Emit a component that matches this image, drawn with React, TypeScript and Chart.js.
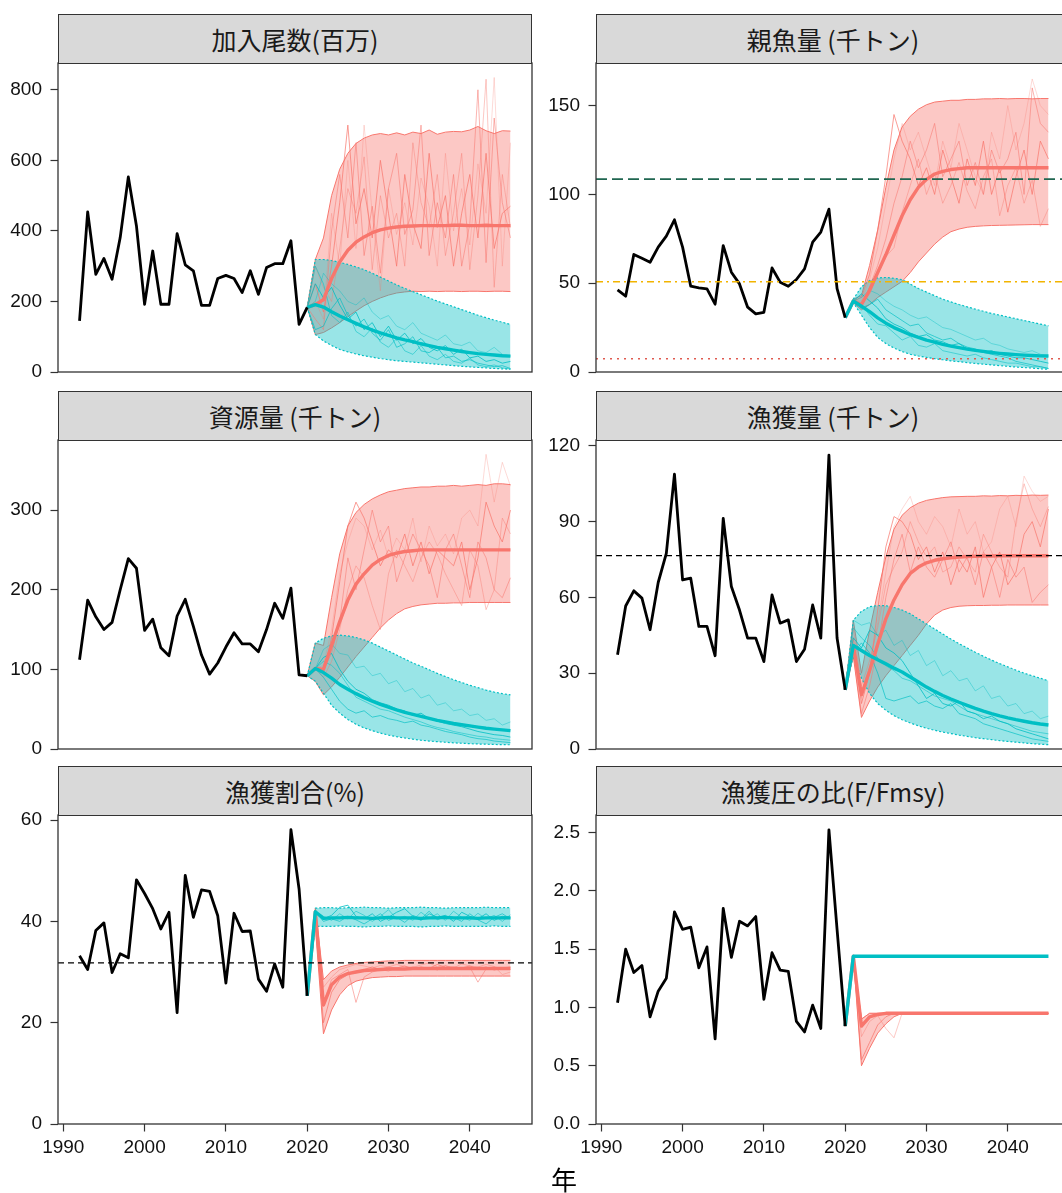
import React, { useEffect, useRef } from "react";
import { Chart, registerables } from "chart.js";
Chart.register(...registerables);

// ---------- categories ----------
const HIST_YEARS = [1992, 1993, 1994, 1995, 1996, 1997, 1998, 1999, 2000, 2001, 2002, 2003, 2004, 2005, 2006, 2007, 2008, 2009, 2010, 2011, 2012, 2013, 2014, 2015, 2016, 2017, 2018, 2019, 2020];
const PROJ_YEARS = [2020, 2021, 2022, 2023, 2024, 2025, 2026, 2027, 2028, 2029, 2030, 2031, 2032, 2033, 2034, 2035, 2036, 2037, 2038, 2039, 2040, 2041, 2042, 2043, 2044, 2045];
const X_TICKS = [1990, 2000, 2010, 2020, 2030, 2040];
const X_MIN = 1989.35;
const X_MAX = 2047.65;

// ---------- 加入尾数(百万) ----------
const recHist = [145, 454, 277, 322, 263, 381, 553, 414, 192, 343, 192, 192, 392, 304, 287, 189, 189, 265, 274, 265, 225, 287, 220, 296, 307, 307, 372, 135, 183];
const recCyanMed = [183, 191, 184, 171, 159, 148, 138, 128, 119, 111, 104, 97, 91, 86, 80, 75, 70, 66, 62, 58, 55, 52, 50, 48, 46, 45];
const recCyanLo = [183, 106, 88, 75, 64, 57, 51, 46, 42, 38, 35, 32, 30, 28, 26, 24, 22, 20, 18, 16, 14.5, 13, 11.5, 10, 9, 8];
const recCyanHi = [183, 319, 319, 316, 311, 305, 298, 290, 280, 269, 258, 247, 237, 228, 219, 210, 201, 193, 185, 177, 169, 161, 154, 147, 141, 135];
const recRedMed = [183, 191, 205, 265, 312, 345, 368, 383, 395, 403, 408, 411, 413, 414, 415, 415, 415, 415, 416, 416, 415, 415, 416, 415, 415, 415];
const recRedLo = [183, 106, 112, 125, 140, 157, 173, 188, 200, 210, 218, 224, 227, 229, 228, 229, 228, 229, 229, 228, 229, 229, 228, 229, 229, 228];
const recRedHi = [183, 319, 380, 500, 575, 620, 648, 663, 672, 676, 672, 678, 672, 680, 676, 686, 674, 680, 682, 681, 686, 696, 684, 676, 684, 683];
const recRedTr1 = [183, 250, 170, 300, 480, 700, 420, 520, 380, 600, 450, 300, 560, 420, 350, 620, 410, 500, 300, 450, 560, 380, 620, 350, 450, 470];
const recRedTr2 = [183, 150, 120, 400, 560, 380, 650, 330, 470, 280, 520, 620, 390, 460, 700, 330, 480, 380, 560, 300, 420, 800, 310, 720, 480, 380];
const recRedTr3 = [183, 300, 240, 200, 350, 520, 450, 610, 290, 500, 380, 450, 300, 650, 480, 410, 560, 330, 450, 620, 290, 500, 830, 240, 560, 410];
const recRedTr4 = [183, 200, 150, 450, 300, 600, 350, 700, 450, 230, 520, 390, 480, 360, 550, 470, 300, 620, 400, 520, 360, 590, 450, 835, 300, 650];
const recCyanTr1 = [183, 250, 210, 240, 190, 150, 170, 120, 140, 100, 130, 90, 110, 80, 95, 70, 60, 75, 50, 65, 40, 45, 30, 35, 25, 30];
const recCyanTr2 = [183, 120, 130, 180, 210, 160, 130, 150, 110, 90, 120, 70, 80, 100, 60, 55, 70, 40, 45, 30, 35, 25, 20, 15, 18, 10];
const recCyanTr3 = [183, 300, 250, 160, 140, 170, 115, 100, 125, 85, 70, 95, 60, 50, 75, 45, 35, 50, 30, 25, 40, 20, 15, 20, 12, 8];
const recCyanTr4 = [183, 200, 280, 250, 230, 200, 190, 210, 170, 150, 160, 130, 120, 140, 110, 100, 90, 105, 80, 75, 85, 60, 55, 70, 50, 45];
const recTicks = [0, 200, 400, 600, 800];

// ---------- 親魚量 (千トン) ----------
const ssbHist = [46.2, 42.7, 66.2, 64, 61.8, 70.3, 76.5, 85.7, 70.3, 48.3, 47.4, 46.8, 38.2, 71.2, 56.2, 49.6, 36.5, 32.7, 33.6, 58.6, 50.6, 48.3, 52.1, 58.1, 73.1, 78.8, 91.7, 47.0, 30.6];
const ssbCyanMed = [30.6, 40, 37, 34, 30.5, 27.5, 25, 23, 21, 19.5, 18, 16.8, 15.6, 14.6, 13.7, 12.9, 12.2, 11.6, 11, 10.5, 10.1, 9.8, 9.5, 9.3, 9.1, 9];
const ssbCyanLo = [30.6, 39, 32, 25, 19.5, 16, 13.5, 11.5, 10, 9, 8.2, 7.5, 6.9, 6.3, 5.8, 5.3, 4.8, 4.4, 4, 3.6, 3.2, 2.8, 2.5, 2.2, 1.8, 1.5];
const ssbCyanHi = [30.6, 41, 48, 51.5, 53, 53.2, 52.8, 52, 49.5, 47, 45, 43, 41, 39.5, 38, 36.7, 35.4, 34.2, 33, 32, 31, 30, 29, 28, 27, 26];
const ssbRedMed = [30.6, 40, 38, 46, 56, 66, 77, 88, 97, 104, 108.5, 111.5, 113, 114, 114.5, 115, 115, 115, 115, 115, 115, 115, 115, 115, 115, 115];
const ssbRedLo = [30.6, 39, 35, 38, 42, 45, 48, 51, 56, 62, 67, 72, 76, 79, 80.5, 81.5, 82, 82.3, 82.5, 82.6, 82.7, 82.8, 82.9, 83, 83, 83];
const ssbRedHi = [30.6, 41, 43, 60, 80, 104, 125, 138, 144, 148, 150.5, 152, 152.5, 153, 153, 153.5, 153.5, 153.8, 153.8, 154, 153.8, 154, 154, 153.8, 154, 154];
const ssbRedTr1 = [30.6, 40, 42, 55, 80, 110, 145, 130, 120, 105, 115, 100, 125, 110, 95, 120, 105, 130, 100, 115, 90, 110, 125, 100, 130, 120];
const ssbRedTr2 = [30.6, 40, 37, 48, 60, 75, 95, 110, 130, 115, 125, 140, 110, 120, 130, 105, 118, 100, 125, 112, 120, 135, 100, 160, 140, 135];
const ssbRedTr3 = [30.6, 40, 38, 44, 55, 65, 70, 90, 105, 120, 100, 112, 95, 105, 118, 102, 92, 110, 120, 88, 105, 115, 95, 108, 82, 92];
const ssbRedTr4 = [30.6, 40, 40, 52, 70, 95, 120, 140, 125, 135, 120, 105, 130, 115, 140, 125, 110, 100, 135, 120, 150, 125, 140, 165, 150, 145];
const ssbCyanTr1 = [30.6, 40, 44, 40, 36, 30, 27, 25, 22, 20, 21, 18, 17, 15, 16, 13, 12, 11, 12, 10, 9, 8, 8, 7, 6, 5];
const ssbCyanTr2 = [30.6, 40, 36, 38, 41, 35, 32, 29, 26, 27, 22, 20, 18, 19, 16, 14, 13, 11, 10, 9, 8, 6, 5, 4, 3, 2];
const ssbCyanTr3 = [30.6, 40, 38, 32, 27, 26, 22, 18, 20, 15, 14, 16, 12, 11, 10, 9, 10, 8, 7, 6, 5, 5, 4, 3, 3, 2];
const ssbCyanTr4 = [30.6, 40, 42, 46, 44, 40, 37, 35, 32, 30, 31, 28, 25, 24, 22, 20, 18, 19, 16, 15, 13, 12, 11, 12, 10, 9];
const ssbTicks = [0, 50, 100, 150];
const ssbTarget = 108.6;
const ssbLimit = 50.8;
const ssbBan = 7.5;

// ---------- 資源量 (千トン) ----------
const bioHist = [112, 187, 166, 150, 159, 200, 239, 227, 149, 163, 127, 117, 167, 188, 154, 118, 94, 108, 128, 146, 132, 132, 122, 150, 183, 164, 202, 93, 92];
const bioCyanMed = [92, 101, 96, 89, 81, 75, 69.5, 64.5, 60, 56, 52.5, 49, 46, 43.5, 41, 38.5, 36, 34, 32, 30.5, 29, 27.5, 26, 25, 24, 23];
const bioCyanLo = [92, 85, 70, 55, 45, 37, 31, 26.5, 23, 20, 17.5, 15.5, 13.8, 12.3, 11, 10, 9.2, 8.5, 7.8, 7.2, 6.7, 6.3, 6, 5.7, 5.5, 5.3];
const bioCyanHi = [92, 133, 139, 142, 143, 142, 140, 137, 133, 128, 123, 118, 113, 108, 104, 99.5, 95, 91, 87, 83.5, 80, 77, 74, 71.5, 69.5, 68];
const bioRedMed = [92, 101, 100, 130, 160, 187, 207, 220, 231, 238, 243, 246, 248, 249, 250, 250, 250, 250, 250, 250, 250, 250, 250, 250, 250, 250];
const bioRedLo = [92, 85, 68, 78, 90, 103, 116, 128, 140, 152, 162, 170, 176, 179, 181, 182, 183, 183, 183.5, 183.5, 184, 184, 184, 184, 184, 184];
const bioRedHi = [92, 133, 130, 190, 245, 280, 297, 307, 314, 319, 323, 325, 327, 328, 329, 329, 330, 330, 331, 330, 331, 332, 331, 333, 333, 332];
const bioRedTr1 = [92, 101, 95, 140, 210, 280, 310, 290, 260, 230, 250, 240, 270, 230, 260, 220, 250, 240, 230, 260, 200, 240, 310, 280, 260, 300];
const bioRedTr2 = [92, 101, 100, 120, 160, 240, 200, 250, 300, 260, 280, 210, 240, 270, 250, 230, 190, 250, 270, 230, 190, 260, 240, 200, 190, 215];
const bioRedTr3 = [92, 101, 90, 110, 150, 200, 230, 215, 180, 150, 220, 250, 230, 210, 240, 260, 245, 220, 200, 180, 250, 230, 175, 200, 290, 270];
const bioRedTr4 = [92, 101, 105, 150, 220, 260, 290, 280, 250, 275, 240, 265, 250, 290, 235, 280, 255, 270, 245, 290, 300, 280, 370, 310, 360, 330];
const bioCyanTr1 = [92, 101, 115, 120, 100, 85, 75, 70, 62, 58, 55, 50, 48, 42, 45, 38, 35, 32, 30, 28, 25, 22, 20, 18, 17, 15];
const bioCyanTr2 = [92, 101, 90, 75, 60, 50, 45, 48, 40, 42, 38, 36, 33, 35, 30, 28, 25, 22, 20, 18, 15, 13, 12, 10, 9, 8];
const bioCyanTr3 = [92, 101, 110, 105, 95, 80, 65, 60, 55, 50, 48, 44, 40, 37, 34, 30, 27, 25, 22, 20, 18, 16, 15, 13, 12, 11];
const bioCyanTr4 = [92, 101, 125, 132, 120, 118, 102, 104, 92, 95, 82, 86, 72, 76, 64, 68, 55, 58, 48, 50, 42, 44, 36, 38, 30, 34];
const bioTicks = [0, 100, 200, 300];

// ---------- 漁獲量 (千トン) ----------
const catHist = [37.3, 56.6, 62.6, 59.7, 47.2, 65.9, 77.4, 108.8, 66.9, 67.6, 48.5, 48.5, 36.9, 91.3, 64.3, 55, 43.9, 43.9, 34.6, 61, 49.8, 51.1, 34.6, 39.5, 57, 43.9, 116.3, 43.9, 23.4];
const catCyanMed = [23.4, 41, 39, 37, 35.3, 33.7, 32, 30.5, 28.5, 26.5, 24.5, 22.8, 21.2, 19.8, 18.5, 17.3, 16.1, 15, 14, 13.1, 12.3, 11.6, 11, 10.4, 9.9, 9.5];
const catCyanLo = [23.4, 36.6, 28, 22, 18, 15.3, 13.2, 11.6, 10.3, 9.2, 8.2, 7.4, 6.7, 6.1, 5.5, 5, 4.5, 4.1, 3.7, 3.3, 3, 2.7, 2.4, 2.1, 1.9, 1.7];
const catCyanHi = [23.4, 51, 54.5, 56.3, 56.8, 56.7, 56, 55, 53.5, 51.5, 49.5, 47.5, 45.5, 43.5, 41.7, 40, 38.3, 36.7, 35.2, 33.8, 32.5, 31.2, 30, 29, 28, 27];
const catRedMed = [23.4, 41, 21.5, 31, 41.5, 51.5, 59, 65, 69.5, 72, 73.7, 74.7, 75.3, 75.7, 76, 76.2, 76.3, 76.4, 76.4, 76.5, 76.5, 76.5, 76.5, 76.5, 76.5, 76.5];
const catRedLo = [23.4, 36.6, 12.5, 19, 24.5, 29, 33, 37, 41, 45, 49.5, 53, 55, 56, 56.5, 56.7, 56.8, 56.8, 56.9, 56.9, 57, 57, 57, 57, 57, 57];
const catRedHi = [23.4, 51, 30, 47, 62, 76, 87, 92.5, 95.5, 97.3, 98.4, 99, 99.5, 99.8, 99.9, 100, 100, 100.2, 100.1, 100.3, 100.2, 100.4, 100.3, 100.5, 100.4, 100.5];
const catRedTr1 = [23.4, 44, 18, 30, 55, 80, 92, 90, 85, 75, 80, 70, 78, 65, 75, 70, 80, 60, 72, 78, 65, 70, 85, 90, 80, 95];
const catRedTr2 = [23.4, 38, 14, 25, 40, 60, 75, 85, 70, 80, 72, 68, 75, 82, 70, 76, 65, 78, 72, 60, 75, 68, 72, 58, 62, 65];
const catRedTr3 = [23.4, 48, 25, 35, 48, 65, 72, 78, 90, 82, 76, 80, 70, 72, 80, 75, 70, 85, 78, 72, 68, 90, 105, 95, 88, 96];
const catRedTr4 = [23.4, 41, 20, 32, 50, 70, 88, 95, 100, 90, 85, 92, 88, 80, 95, 85, 90, 78, 82, 95, 100, 88, 108, 102, 98, 100];
const catCyanTr1 = [23.4, 44, 40, 47, 45, 40, 38, 35, 30, 25, 20, 22, 18, 17, 19, 15, 14, 12, 13, 11, 10, 8, 7, 6, 5, 4];
const catCyanTr2 = [23.4, 38, 42, 38, 30, 20, 19, 20, 21, 18, 19, 17, 16, 18, 14, 13, 12, 10, 9, 8, 7, 6, 5, 4, 3.5, 3];
const catCyanTr3 = [23.4, 48, 44, 41, 36, 33, 31, 28, 27, 25, 23, 21, 20, 19, 17, 15, 14, 13, 12, 11, 10, 9, 8, 7, 6.5, 6];
const catCyanTr4 = [23.4, 51, 49, 50, 45, 47, 41, 43, 37, 39, 33, 35, 29, 31, 27, 28, 23, 25, 20, 21, 17, 18, 14, 15, 12, 13];
const catTicks = [0, 30, 60, 90, 120];
const catMsy = 76.5;

// ---------- 漁獲割合(%) ----------
const rateHist = [33.2, 30.5, 38.2, 39.7, 29.9, 33.6, 32.8, 48.2, 45.5, 42.5, 38.5, 41.8, 22, 49.1, 40.8, 46.2, 45.9, 41.1, 27.8, 41.6, 38, 38.1, 28.6, 26.2, 31.6, 27, 58.1, 46.4, 25.3];
const rateCyanMed = [25.3, 41.9, 40.6, 40.7, 40.7, 40.8, 40.7, 40.7, 40.6, 40.7, 40.8, 40.7, 40.7, 40.7, 40.6, 40.7, 40.7, 40.8, 40.7, 40.7, 40.7, 40.6, 40.7, 40.7, 40.7, 40.7];
const rateCyanLo = [25.3, 39.0, 39.0, 39.0, 39.1, 39.0, 39.0, 38.9, 39.0, 39.0, 39.1, 39.0, 39.0, 39.0, 38.9, 39.0, 39.0, 39.1, 39.0, 39.0, 39.0, 39.0, 39.0, 39.1, 39.0, 39.0];
const rateCyanHi = [25.3, 42.6, 42.7, 42.7, 42.6, 42.7, 42.7, 42.8, 42.7, 42.7, 42.6, 42.7, 42.7, 42.7, 42.8, 42.7, 42.7, 42.6, 42.7, 42.7, 42.7, 42.7, 42.8, 42.7, 42.7, 42.7];
const rateRedMed = [25.3, 41.9, 23.5, 27.5, 29, 29.7, 30, 30.3, 30.4, 30.5, 30.6, 30.6, 30.6, 30.7, 30.7, 30.7, 30.7, 30.7, 30.7, 30.7, 30.7, 30.7, 30.7, 30.7, 30.7, 30.7];
const rateRedLo = [25.3, 39.0, 17.8, 22.5, 25.5, 27.3, 28.2, 28.6, 28.9, 29, 29.1, 29.1, 29.2, 29.2, 29.2, 29.2, 29.2, 29.2, 29.2, 29.2, 29.2, 29.2, 29.2, 29.2, 29.2, 29.2];
const rateRedHi = [25.3, 42.6, 28.5, 30.2, 31, 31.4, 31.7, 31.9, 32, 32.1, 32.2, 32.2, 32.3, 32.3, 32.3, 32.3, 32.3, 32.3, 32.3, 32.3, 32.3, 32.3, 32.3, 32.3, 32.3, 32.3];
const rateRedTr1 = [25.3, 41.9, 20, 26, 28.5, 29.5, 30, 30.5, 31, 30.5, 31, 30.8, 31.2, 30.6, 31, 30.7, 31.5, 30.9, 31, 30.8, 31.2, 30.6, 31, 30.4, 30.8, 31];
const rateRedTr2 = [25.3, 41.9, 24, 28.5, 29.5, 30.5, 24, 29, 30, 30.5, 30.2, 30.8, 30.5, 31, 30.6, 30.9, 30.4, 31.2, 30.7, 30.5, 31, 28, 30.6, 31, 30.7, 30.5];
const rateRedTr3 = [25.3, 41.9, 27, 29, 30.5, 31, 31.5, 31.2, 30.8, 31.3, 31, 31.5, 31.1, 30.9, 31.4, 31.8, 31, 31.3, 30.8, 31.6, 31.2, 31, 31.5, 31.1, 29.5, 30];
const rateCyanTr1 = [25.3, 41.9, 40.5, 41.2, 42.8, 43.2, 41, 40.5, 41.5, 40, 40.8, 41.8, 42.5, 41, 40.2, 41.5, 40.8, 41.2, 40, 41.8, 41, 40.5, 41.5, 40.2, 41, 40.8];
const rateCyanTr2 = [25.3, 41.9, 40, 40.5, 40, 41, 40.3, 39.5, 40.5, 41.5, 40.2, 40.8, 39.8, 41.2, 40.5, 42, 40.3, 41, 40.8, 40, 41.5, 40.3, 39.5, 40.8, 41.5, 40.5];
const rateCyanTr3 = [25.3, 41.9, 41, 40.2, 41.5, 40.5, 42, 41.2, 40, 41, 42.3, 40.5, 41, 40.2, 41.8, 40.6, 41.5, 40.2, 42, 40.8, 40.2, 41.6, 40.5, 41.2, 40, 41.3];
const rateTicks = [0, 20, 40, 60];
const rateRef = 31.8;

// ---------- 漁獲圧の比(F/Fmsy) ----------
const fHist = [1.04, 1.5, 1.3, 1.36, 0.92, 1.14, 1.25, 1.82, 1.67, 1.69, 1.34, 1.52, 0.73, 1.85, 1.43, 1.74, 1.7, 1.78, 1.07, 1.47, 1.32, 1.31, 0.88, 0.79, 1.02, 0.82, 2.525, 1.67, 0.84];
const fCyanMed = [0.84, 1.44, 1.44, 1.44, 1.44, 1.44, 1.44, 1.44, 1.44, 1.44, 1.44, 1.44, 1.44, 1.44, 1.44, 1.44, 1.44, 1.44, 1.44, 1.44, 1.44, 1.44, 1.44, 1.44, 1.44, 1.44];
const fRedMed = [0.84, 1.44, 0.84, 0.92, 0.94, 0.95, 0.95, 0.95, 0.95, 0.95, 0.95, 0.95, 0.95, 0.95, 0.95, 0.95, 0.95, 0.95, 0.95, 0.95, 0.95, 0.95, 0.95, 0.95, 0.95, 0.95];
const fRedLo = [0.84, 1.44, 0.5, 0.65, 0.78, 0.86, 0.92, 0.95, 0.95, 0.95, 0.95, 0.95, 0.95, 0.95, 0.95, 0.95, 0.95, 0.95, 0.95, 0.95, 0.95, 0.95, 0.95, 0.95, 0.95, 0.95];
const fRedHi = [0.84, 1.44, 0.9, 0.95, 0.95, 0.95, 0.95, 0.95, 0.95, 0.95, 0.95, 0.95, 0.95, 0.95, 0.95, 0.95, 0.95, 0.95, 0.95, 0.95, 0.95, 0.95, 0.95, 0.95, 0.95, 0.95];
const fRedTr1 = [0.84, 1.44, 0.55, 0.7, 0.85, 0.92, 0.95, 0.95, 0.95, 0.95, 0.95, 0.95, 0.95, 0.95, 0.95, 0.95, 0.95, 0.95, 0.95, 0.95, 0.95, 0.95, 0.95, 0.95, 0.95, 0.95];
const fRedTr2 = [0.84, 1.44, 0.9, 0.95, 0.95, 0.95, 0.95, 0.95, 0.95, 0.95, 0.95, 0.95, 0.95, 0.95, 0.95, 0.95, 0.95, 0.95, 0.95, 0.95, 0.95, 0.95, 0.95, 0.95, 0.95, 0.95];
const fRedTr3 = [0.84, 1.44, 0.75, 0.88, 0.93, 0.82, 0.74, 0.95, 0.95, 0.95, 0.95, 0.95, 0.95, 0.95, 0.95, 0.95, 0.95, 0.95, 0.95, 0.95, 0.95, 0.95, 0.95, 0.95, 0.95, 0.95];
const fTicks = [0, 0.5, 1, 1.5, 2, 2.5];

// ---------- styles ----------
const RED = "#F8766D";
const CYAN = "#00BFC4";
const RED_FILL = "rgba(248,118,109,0.4)";
const CYAN_FILL = "rgba(0,191,196,0.4)";
const RED_TRACE_ALPHA = [0.8, 0.6, 0.45, 0.3];
const CYAN_TRACE_ALPHA = [0.9, 0.75, 0.6, 0.45];
const TICK_FONT = { family: "'Liberation Sans', Arial, sans-serif", size: 19 };
const CJK = "'Noto Sans CJK JP', 'Noto Sans', sans-serif";

type RefLine = { value: number; color: string; dash: number[]; width: number };
type Spec = {
  title: string;
  hist: number[];
  cMed: number[]; cLo: number[] | null; cHi: number[] | null;
  rMed: number[]; rLo: number[]; rHi: number[];
  cTr: number[][]; rTr: number[][];
  yMax: number; yTicks: number[]; dec: number;
  refs: RefLine[];
  col: number; row: number;
};

const SPECS: Spec[] = [
  { title: "加入尾数(百万)", hist: recHist, cMed: recCyanMed, cLo: recCyanLo, cHi: recCyanHi, rMed: recRedMed, rLo: recRedLo, rHi: recRedHi,
    cTr: [recCyanTr1, recCyanTr2, recCyanTr3, recCyanTr4], rTr: [recRedTr1, recRedTr2, recRedTr3, recRedTr4],
    yMax: 876, yTicks: recTicks, dec: 0, refs: [], col: 0, row: 0 },
  { title: "親魚量 (千トン)", hist: ssbHist, cMed: ssbCyanMed, cLo: ssbCyanLo, cHi: ssbCyanHi, rMed: ssbRedMed, rLo: ssbRedLo, rHi: ssbRedHi,
    cTr: [ssbCyanTr1, ssbCyanTr2, ssbCyanTr3, ssbCyanTr4], rTr: [ssbRedTr1, ssbRedTr2, ssbRedTr3, ssbRedTr4],
    yMax: 174, yTicks: ssbTicks, dec: 0,
    refs: [
      { value: ssbTarget, color: "#1F6650", dash: [11, 5], width: 1.6 },
      { value: ssbLimit, color: "#F2B400", dash: [7, 4, 2, 4], width: 1.5 },
      { value: ssbBan, color: "#E05A50", dash: [2, 5], width: 1.5 },
    ], col: 1, row: 0 },
  { title: "資源量 (千トン)", hist: bioHist, cMed: bioCyanMed, cLo: bioCyanLo, cHi: bioCyanHi, rMed: bioRedMed, rLo: bioRedLo, rHi: bioRedHi,
    cTr: [bioCyanTr1, bioCyanTr2, bioCyanTr3, bioCyanTr4], rTr: [bioRedTr1, bioRedTr2, bioRedTr3, bioRedTr4],
    yMax: 388, yTicks: bioTicks, dec: 0, refs: [], col: 0, row: 1 },
  { title: "漁獲量 (千トン)", hist: catHist, cMed: catCyanMed, cLo: catCyanLo, cHi: catCyanHi, rMed: catRedMed, rLo: catRedLo, rHi: catRedHi,
    cTr: [catCyanTr1, catCyanTr2, catCyanTr3, catCyanTr4], rTr: [catRedTr1, catRedTr2, catRedTr3, catRedTr4],
    yMax: 122.3, yTicks: catTicks, dec: 0,
    refs: [{ value: catMsy, color: "#000000", dash: [6, 4], width: 1.3 }], col: 1, row: 1 },
  { title: "漁獲割合(%)", hist: rateHist, cMed: rateCyanMed, cLo: rateCyanLo, cHi: rateCyanHi, rMed: rateRedMed, rLo: rateRedLo, rHi: rateRedHi,
    cTr: [rateCyanTr1, rateCyanTr2, rateCyanTr3], rTr: [rateRedTr1, rateRedTr2, rateRedTr3],
    yMax: 61, yTicks: rateTicks, dec: 0,
    refs: [{ value: rateRef, color: "#000000", dash: [6, 4], width: 1.3 }], col: 0, row: 2 },
  { title: "漁獲圧の比(F/Fmsy)", hist: fHist, cMed: fCyanMed, cLo: null, cHi: null, rMed: fRedMed, rLo: fRedLo, rHi: fRedHi,
    cTr: [], rTr: [fRedTr1, fRedTr2, fRedTr3],
    yMax: 2.652, yTicks: fTicks, dec: 1, refs: [], col: 1, row: 2 },
];

// ---------- layout ----------
const COLS = [
  { canvasLeft: 0, plotL: 58, plotR: 532 },
  { canvasLeft: 540, plotL: 596, plotR: 1070 },
];
const ROW_TOPS = [63, 440, 815];
const PLOT_H = 309;
const PAD_T = 20;
const PAD_R = 10;
const XAX_H = 40;
const STRIP_H = 49.5;

const pts = (xs: number[], ys: number[]) => ys.map((y, i) => ({ x: xs[i], y }));

const framePlugin = {
  id: "frame",
  afterDraw(chart: any) {
    const { ctx, chartArea: a } = chart;
    ctx.save();
    ctx.strokeStyle = "#333333";
    ctx.lineWidth = 1.3;
    ctx.strokeRect(a.left, a.top, a.right - a.left, a.bottom - a.top);
    ctx.restore();
  },
};

function Panel({ spec }: { spec: Spec }) {
  const ref = useRef<HTMLCanvasElement | null>(null);
  const col = COLS[spec.col];
  const plotTop = ROW_TOPS[spec.row];
  const isBottom = spec.row === 2;
  const cLeft = col.canvasLeft;
  const cTop = plotTop - PAD_T;
  const cW = col.plotR + PAD_R - cLeft;
  const cH = PAD_T + PLOT_H + (isBottom ? XAX_H : PAD_T);
  const yW = col.plotL - cLeft;

  useEffect(() => {
    if (!ref.current) return;
    const ds: any[] = [];
    spec.refs.forEach((r) =>
      ds.push({ data: [{ x: X_MIN, y: r.value }, { x: X_MAX, y: r.value }], borderColor: r.color, borderWidth: r.width, borderDash: r.dash, fill: false })
    );
    ds.push({ data: pts(HIST_YEARS, spec.hist), borderColor: "#000000", borderWidth: 2.8, fill: false });
    ds.push({ data: pts(PROJ_YEARS, spec.cMed), borderColor: CYAN, borderWidth: 3.4, fill: false });
    ds.push({ data: pts(PROJ_YEARS, spec.rMed), borderColor: RED, borderWidth: 3.4, fill: false });
    spec.cTr.forEach((t, i) =>
      ds.push({ data: pts(PROJ_YEARS, t), borderColor: `rgba(0,191,196,${CYAN_TRACE_ALPHA[i]})`, borderWidth: 0.9, fill: false })
    );
    spec.rTr.forEach((t, i) =>
      ds.push({ data: pts(PROJ_YEARS, t), borderColor: `rgba(248,118,109,${RED_TRACE_ALPHA[i]})`, borderWidth: 0.9, fill: false })
    );
    if (spec.cHi && spec.cLo) {
      const idx = ds.length;
      ds.push({ data: pts(PROJ_YEARS, spec.cHi), borderColor: CYAN, borderWidth: 1.2, borderDash: [2, 2], fill: idx + 1, backgroundColor: CYAN_FILL });
      ds.push({ data: pts(PROJ_YEARS, spec.cLo), borderColor: CYAN, borderWidth: 1.2, borderDash: [2, 2], fill: false });
    }
    const ridx = ds.length;
    ds.push({ data: pts(PROJ_YEARS, spec.rHi), borderColor: RED, borderWidth: 1, fill: ridx + 1, backgroundColor: RED_FILL });
    ds.push({ data: pts(PROJ_YEARS, spec.rLo), borderColor: RED, borderWidth: 1, fill: false });

    const chart = new Chart(ref.current, {
      type: "line",
      data: { datasets: ds },
      options: {
        animation: false,
        responsive: false,
        maintainAspectRatio: false,
        layout: { padding: { left: 0, right: PAD_R, top: PAD_T, bottom: isBottom ? 0 : PAD_T } },
        plugins: { legend: { display: false }, tooltip: { enabled: false } },
        elements: {
          point: { radius: 0, hoverRadius: 0 },
          line: { tension: 0, borderJoinStyle: "round", borderCapStyle: "butt" },
        },
        events: [],
        scales: {
          x: {
            type: "linear",
            min: X_MIN,
            max: X_MAX,
            display: isBottom,
            afterBuildTicks: (s: any) => { s.ticks = X_TICKS.map((v) => ({ value: v })); },
            afterFit: (s: any) => {
              if (isBottom) s.height = XAX_H;
              s.paddingLeft = 0;
              s.paddingRight = 0;
            },
            ticks: { font: TICK_FONT, color: "#111111", padding: 5, maxRotation: 0, minRotation: 0, autoSkip: false, callback: (v: any) => String(v) },
            grid: { drawOnChartArea: false, drawTicks: true, tickLength: 7.5, tickWidth: 1.2, tickColor: "#333333" },
            border: { display: false },
          },
          y: {
            type: "linear",
            min: 0,
            max: spec.yMax,
            afterBuildTicks: (s: any) => { s.ticks = spec.yTicks.map((v) => ({ value: v })); },
            afterFit: (s: any) => { s.width = yW; s.paddingTop = 0; s.paddingBottom = 0; },
            ticks: { font: TICK_FONT, color: "#111111", padding: 8.5, autoSkip: false, callback: (v: any) => Number(v).toFixed(spec.dec) },
            grid: { drawOnChartArea: false, drawTicks: true, tickLength: 7.5, tickWidth: 1.2, tickColor: "#333333" },
            border: { display: false },
          },
        },
      } as any,
      plugins: [framePlugin],
    });
    return () => chart.destroy();
  }, []);

  return (
    <>
      <canvas
        ref={ref}
        width={cW}
        height={cH}
        style={{ position: "absolute", left: cLeft, top: cTop, width: cW, height: cH }}
      />
      <div
        style={{
          position: "absolute",
          left: col.plotL,
          top: plotTop - STRIP_H + 0.5,
          width: col.plotR - col.plotL,
          height: STRIP_H + 0.5,
          boxSizing: "border-box",
          background: "#D9D9D9",
          border: "1.3px solid #333333",
          display: "flex",
          alignItems: "center",
          justifyContent: "center",
          fontFamily: CJK,
          fontSize: 25,
          color: "#1A1A1A",
          whiteSpace: "nowrap",
        }}
      >
        {spec.title}
      </div>
    </>
  );
}

export default function App() {
  return (
    <div style={{ position: "absolute", left: 0, top: 0, width: 1062, height: 1193, overflow: "hidden", background: "#ffffff" }}>
      {SPECS.map((s, i) => (
        <Panel key={i} spec={s} />
      ))}
      <div
        style={{
          position: "absolute",
          left: 534,
          top: 1160,
          width: 60,
          height: 38,
          lineHeight: "38px",
          textAlign: "center",
          fontFamily: CJK,
          fontSize: 26,
          color: "#000000",
        }}
      >
        年
      </div>
    </div>
  );
}
